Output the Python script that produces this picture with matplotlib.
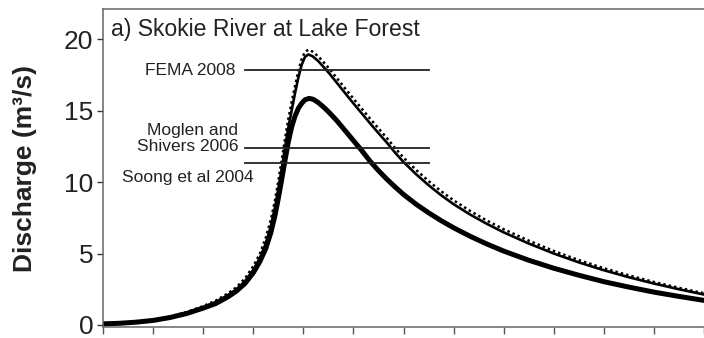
import matplotlib
matplotlib.use("Agg")
from matplotlib import pyplot as plt

plt.rcParams['font.family'] = ['Liberation Sans', 'DejaVu Sans']

# simulated hydrographs, time in hours
hours_up = [0, 2, 4, 6, 8, 10, 12, 13.5, 15, 16, 17, 18, 18.8, 19.5, 20.1, 20.6, 21.0,
            21.4, 21.8, 22.2, 22.6, 23.0, 23.4, 23.8, 24.2, 24.6, 25.1, 25.8, 26.5, 27.1,
            28, 29, 30, 31, 32, 33, 34, 35, 36, 37.5, 39, 40.5, 42, 44, 46, 48, 51, 54,
            57, 60, 63, 66, 69, 72]
q_up = [0.08, 0.12, 0.2, 0.33, 0.55, 0.85, 1.25, 1.6, 2.1, 2.5, 3.05, 3.85, 4.7, 5.7, 6.9,
        8.2, 9.5, 10.9, 12.4, 13.8, 15.0, 16.2, 17.3, 18.2, 18.75, 18.92, 18.8, 18.45, 18.0,
        17.6, 16.95, 16.22, 15.5, 14.8, 14.1, 13.42, 12.76, 12.05, 11.4, 10.55, 9.78, 9.08,
        8.45, 7.72, 7.07, 6.48, 5.7, 5.0, 4.38, 3.83, 3.34, 2.9, 2.5, 2.13]
q_dot = [0.08, 0.12, 0.21, 0.35, 0.58, 0.9, 1.32, 1.7, 2.22, 2.65, 3.25, 4.1, 5.0, 6.1, 7.35,
         8.7, 10.05, 11.5, 13.0, 14.4, 15.6, 16.7, 17.75, 18.6, 19.1, 19.25, 19.12, 18.78,
         18.33, 17.93, 17.28, 16.55, 15.83, 15.13, 14.43, 13.75, 13.08, 12.37, 11.71, 10.85,
         10.07, 9.36, 8.72, 7.97, 7.3, 6.7, 5.9, 5.18, 4.54, 3.97, 3.47, 3.01, 2.6, 2.22]

hours_low = [0, 2, 4, 6, 8, 10, 12, 13.5, 15, 16, 17, 18, 18.8, 19.5, 20.1, 20.6, 21.0,
             21.4, 21.8, 22.2, 22.6, 23.0, 23.4, 23.8, 24.2, 24.7, 25.2, 25.8, 26.5, 27,
             28, 29, 30, 31, 32, 33, 34, 35, 36, 37.5, 39, 40.5, 42, 44, 46, 48, 51, 54,
             57, 60, 63, 66, 69, 72]
q_low = [0.08, 0.12, 0.2, 0.32, 0.52, 0.8, 1.18, 1.5, 1.98, 2.38, 2.9, 3.65, 4.45, 5.35,
         6.45, 7.65, 8.85, 10.15, 11.5, 12.8, 13.85, 14.6, 15.15, 15.5, 15.75, 15.85, 15.78,
         15.55, 15.2, 14.92, 14.3, 13.6, 12.9, 12.2, 11.45, 10.8, 10.2, 9.65, 9.13, 8.45,
         7.85, 7.3, 6.8, 6.2, 5.66, 5.17, 4.53, 3.97, 3.48, 3.03, 2.65, 2.3, 2.0, 1.72]

# published peak discharge estimates
ref_names = ['FEMA 2008', 'Moglen and\nShivers 2006', 'Soong et al 2004']
ref_q = [17.8, 12.35, 11.35]
ref_start, ref_end = 17.0, 39.1

fig = plt.figure(figsize=(7.04, 3.38), dpi=100)
ax = fig.add_axes([103/704, 11/338, 601/704, 318/338])

ax.plot(hours_low, q_low, color='black', lw=3.6, solid_capstyle='round', solid_joinstyle='round')
ax.plot(hours_up, q_up, color='black', lw=1.9, solid_joinstyle='round')
ax.plot(hours_up, q_dot, color='black', lw=1.8, linestyle=(0, (1, 1.2)))

for q in ref_q:
    ax.plot([ref_start, ref_end], [q, q], color='#222222', lw=1.3)

txt = dict(fontsize=12.5, color='#222222', ha='right', va='center')
ax.text(15.9, ref_q[0], ref_names[0], **txt)
ax.text(16.2, 13.05, ref_names[1], linespacing=1.05, **txt)
ax.text(18.0, 10.35, ref_names[2], **txt)

ax.text(1.0, 20.2, 'a) Skokie River at Lake Forest', fontsize=16.6, color='#222222',
        va='baseline', ha='left')

ax.set_xlim(0, 72 * 601 / 602)
ax.set_ylim(-0.14, 22.1)
ax.set_xticks(range(0, 73, 6))
ax.set_xticklabels([])
ax.set_yticks([0, 5, 10, 15, 20])
ax.tick_params(axis='y', direction='out', length=4, width=1, labelsize=19,
               pad=3, colors='#333333', labelcolor='#222222')
ax.tick_params(axis='x', direction='out', length=5, width=1, colors='#555555')
ax.spines['right'].set_visible(False)
for s in ['left', 'bottom', 'top']:
    ax.spines[s].set_color('#666666')
    ax.spines[s].set_linewidth(1.1)

ax.set_ylabel('Discharge (m³/s)', fontsize=19, fontweight='bold', color='#222222')
ax.yaxis.set_label_coords(-0.110, 0.5)

fig.savefig('out.png', dpi=100)
